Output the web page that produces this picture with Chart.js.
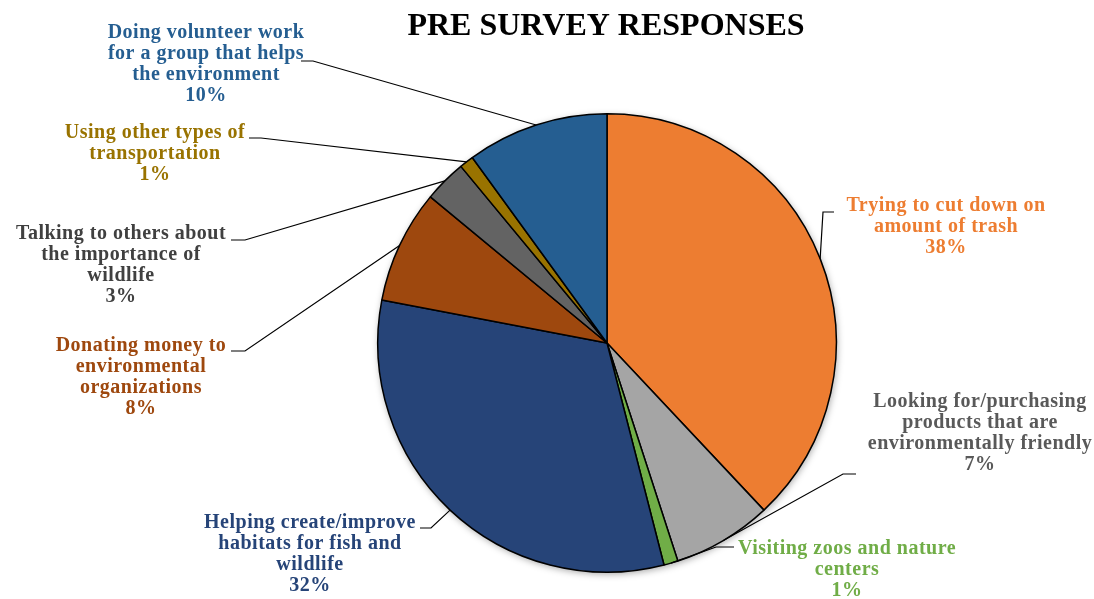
<!DOCTYPE html>
<html>
<head>
<meta charset="utf-8">
<script src="https://cdn.jsdelivr.net/npm/chart.js@4.4.0/dist/chart.umd.min.js"></script>
<style>
  html, body { margin: 0; padding: 0; background: #fff; }
  #wrap { width: 1094px; height: 599px; position: relative; }
</style>
</head>
<body>
<div id="wrap"><canvas id="survey-chart"></canvas></div>
<script>
const chartTitle = "PRE SURVEY RESPONSES";

const categories = [
  ["Trying to cut down on", "amount of trash"],
  ["Looking for/purchasing", "products that are", "environmentally friendly"],
  ["Visiting zoos and nature", "centers"],
  ["Helping create/improve", "habitats for fish and", "wildlife"],
  ["Donating money to", "environmental", "organizations"],
  ["Talking to others about", "the importance of", "wildlife"],
  ["Using other types of", "transportation"],
  ["Doing volunteer work", "for a group that helps", "the environment"]
];
const percentages = [38, 7, 1, 32, 8, 3, 1, 10];

const sliceColors = ["#ED7D31", "#A5A5A5", "#70AD47", "#264478", "#9E480E", "#636363", "#997300", "#255E91"];
const textColors  = ["#ED7D31", "#595959", "#70AD47", "#264478", "#9E480E", "#404040", "#997300", "#255E91"];

// where each label sits: text centre x, first line y, leader elbow
const labelSpots = [
  { x: 946, y: 206, hx0: 834, hx1: 823, hy: 212 },
  { x: 980, y: 402, hx0: 856, hx1: 843, hy: 474 },
  { x: 847, y: 549, hx0: 734, hx1: 716, hy: 547 },
  { x: 310, y: 523, hx0: 420, hx1: 431, hy: 528 },
  { x: 141, y: 346, hx0: 231, hx1: 245, hy: 351 },
  { x: 121, y: 234, hx0: 231, hx1: 245, hy: 240 },
  { x: 155, y: 133, hx0: 249, hx1: 261, hy: 138 },
  { x: 206, y: 33,  hx0: 301, hx1: 313, hy: 61 }
];

const labelFont = "bold 20px 'Liberation Serif', 'Times New Roman', serif";
const lineGap = 21;

const pieShadow = {
  id: "pieShadow",
  beforeDatasetsDraw(chart) {
    const arc = chart.getDatasetMeta(0).data[0];
    if (!arc) return;
    const ctx = chart.ctx;
    ctx.save();
    ctx.shadowColor = "rgba(0,0,0,0.35)";
    ctx.shadowBlur = 7;
    ctx.shadowOffsetX = 1;
    ctx.shadowOffsetY = 2;
    ctx.fillStyle = "#fff";
    ctx.beginPath();
    ctx.arc(arc.x, arc.y, arc.outerRadius, 0, Math.PI * 2);
    ctx.fill();
    ctx.restore();
  }
};

const calloutLabels = {
  id: "calloutLabels",
  afterDraw(chart) {
    const ctx = chart.ctx;
    const arcs = chart.getDatasetMeta(0).data;

    ctx.save();
    ctx.font = "bold 32px 'Liberation Serif', 'Times New Roman', serif";
    ctx.fillStyle = "#000";
    ctx.textAlign = "center";
    ctx.textBaseline = "middle";
    ctx.fillText(chartTitle, 606, 27);

    arcs.forEach((arc, i) => {
      const spot = labelSpots[i];
      const p = arc.getProps(["x", "y", "startAngle", "endAngle", "outerRadius"], true);
      const mid = (p.startAngle + p.endAngle) / 2;
      const ex = p.x + Math.cos(mid) * p.outerRadius;
      const ey = p.y + Math.sin(mid) * p.outerRadius;

      ctx.strokeStyle = "#000";
      ctx.lineWidth = 1.2;
      ctx.beginPath();
      ctx.moveTo(spot.hx0, spot.hy);
      ctx.lineTo(spot.hx1, spot.hy);
      ctx.lineTo(ex, ey);
      ctx.stroke();

      const lines = categories[i].concat([percentages[i] + "%"]);
      ctx.font = labelFont;
      ctx.letterSpacing = "0.5px";
      ctx.fillStyle = textColors[i];
      ctx.textAlign = "center";
      ctx.textBaseline = "middle";
      lines.forEach((t, k) => ctx.fillText(t, spot.x, spot.y + k * lineGap));
      ctx.letterSpacing = "0px";
    });
    ctx.restore();
  }
};

new Chart(document.getElementById("survey-chart"), {
  type: "pie",
  data: {
    labels: categories.map(c => c.join(" ")),
    datasets: [{
      data: percentages,
      backgroundColor: sliceColors,
      borderColor: "#000",
      borderWidth: 1.5
    }]
  },
  options: {
    responsive: true,
    maintainAspectRatio: false,
    animation: false,
    layout: { padding: { left: 377, right: 257, top: 113, bottom: 26 } },
    plugins: {
      legend: { display: false },
      title: { display: false },
      tooltip: { enabled: false }
    }
  },
  plugins: [pieShadow, calloutLabels]
});
</script>
</body>
</html>
